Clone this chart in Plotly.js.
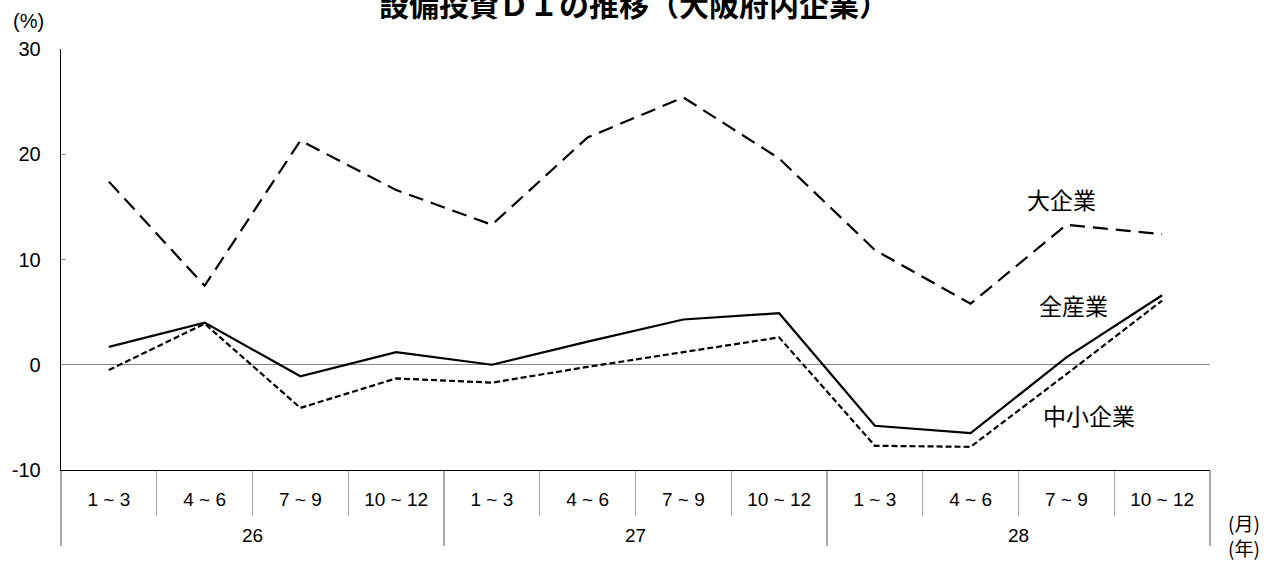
<!DOCTYPE html>
<html>
<head>
<meta charset="utf-8">
<script src="https://cdn.plot.ly/plotly-3.0.1.min.js"></script>
<style>html,body{margin:0;padding:0;background:#fff;}#chart{width:1273px;height:561px;}</style>
</head>
<body>
<div id="chart"></div>
<script>
const years = ["26","26","26","26","27","27","27","27","28","28","28","28"];
const quarters = ["1 ~ 3","4 ~ 6","7 ~ 9","10 ~ 12","1 ~ 3","4 ~ 6","7 ~ 9","10 ~ 12","1 ~ 3","4 ~ 6","7 ~ 9","10 ~ 12"];
const large = [17.4, 7.5, 21.3, 16.6, 13.3, 21.6, 25.4, 19.6, 10.9, 5.8, 13.3, 12.4];
const allInd = [1.7, 4.0, -1.1, 1.2, 0.0, 2.2, 4.3, 4.9, -5.8, -6.5, 0.7, 6.6];
const small = [-0.5, 3.9, -4.1, -1.3, -1.7, -0.2, 1.2, 2.6, -7.7, -7.8, -0.9, 6.1];
const yTicks = [-10, 0, 10, 20, 30];
const yTickText = ["-10", "0", "10", "20", "30"];

const font = "Liberation Sans, Arial, Noto Sans CJK JP, sans-serif";
const jfont = "Noto Sans CJK JP, sans-serif";
// year row label pushed one line lower (blank first line)
const yearLabels = years.map(y => "\u00a0<br>" + y);
const xcats = [yearLabels, quarters];

const traces = [
  {x: xcats, y: large, type: "scatter", mode: "lines", name: "大企業",
   line: {color: "#000", width: 2.2, dash: "15px,8px"}},
  {x: xcats, y: allInd, type: "scatter", mode: "lines", name: "全産業",
   line: {color: "#000", width: 2.2}},
  {x: xcats, y: small, type: "scatter", mode: "lines", name: "中小企業",
   line: {color: "#000", width: 2.2, dash: "6px,3px"}}
];

const layout = {
  width: 1273, height: 561,
  margin: {l: 61, r: 63, t: 49, b: 91},
  paper_bgcolor: "#fff", plot_bgcolor: "#fff",
  showlegend: false,
  font: {family: font, color: "#000", size: 18},
  title: {text: "<b>設備投資ＤＩの推移（大阪府内企業）</b>", x: 0.498, xanchor: "center",
          y: 0.990, yanchor: "middle", font: {size: 30, family: jfont}},
  xaxis: {
    type: "multicategory", range: [-0.5, 11.5],
    showline: true, linecolor: "#000", linewidth: 1.3,
    ticks: "outside", tickson: "boundaries", ticklen: 45, tickcolor: "#aaa", tickwidth: 1.3,
    ticklabelstandoff: 12,
    showdividers: true, dividercolor: "#aaa", dividerwidth: 1.3,
    showgrid: false, zeroline: false,
    tickfont: {size: 19, family: font}
  },
  yaxis: {
    range: [-10, 30], tickvals: yTicks, ticktext: yTickText,
    showline: true, linecolor: "#000", linewidth: 1.3,
    ticks: "inside", ticklen: 5, tickcolor: "#888",
    ticklabelstandoff: 15,
    showgrid: false,
    zeroline: true, zerolinecolor: "#888", zerolinewidth: 1.3,
    tickfont: {size: 20, family: font}
  },
  annotations: [
    {text: "大企業", xref: "paper", yref: "paper", x: 0.871, y: 0.643, xanchor: "center", yanchor: "middle", showarrow: false, font: {size: 23, family: jfont}},
    {text: "全産業", xref: "paper", yref: "paper", x: 0.881, y: 0.392, xanchor: "center", yanchor: "middle", showarrow: false, font: {size: 23, family: jfont}},
    {text: "中小企業", xref: "paper", yref: "paper", x: 0.895, y: 0.131, xanchor: "center", yanchor: "middle", showarrow: false, font: {size: 23, family: jfont}},
    {text: "(%)", xref: "paper", yref: "paper", x: -0.028, y: 1.067, xanchor: "center", yanchor: "middle", showarrow: false, font: {size: 20, family: font}},
    {text: "(月)", xref: "paper", yref: "paper", x: 1.0295, y: -0.124, xanchor: "center", yanchor: "middle", showarrow: false, font: {size: 19, family: jfont}},
    {text: "(年)", xref: "paper", yref: "paper", x: 1.0295, y: -0.185, xanchor: "center", yanchor: "middle", showarrow: false, font: {size: 19, family: jfont}}
  ]
};

Plotly.newPlot("chart", traces, layout, {displayModeBar: false, staticPlot: true});
</script>
</body>
</html>
